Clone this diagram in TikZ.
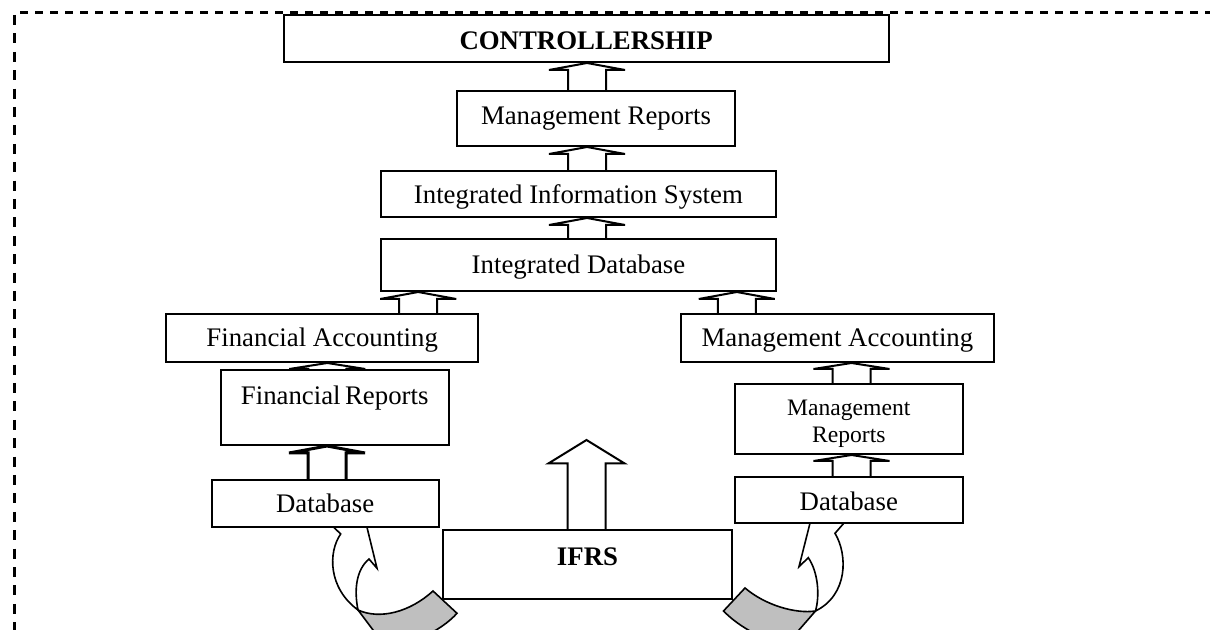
\documentclass[tikz,border=0pt]{standalone}
\usepackage{fontspec}
\setmainfont{Liberation Serif}
\usetikzlibrary{calc}

\begin{document}
\begin{tikzpicture}[
        x=0.5pt, y=-0.5pt,
        every node/.style={draw, line width=1pt, fill=white, inner xsep=0pt, inner ysep=0pt,
            anchor=base, font=\fontsize{13.4}{16}\selectfont},
        box/.style n args={3}{minimum width=#1, text height=#2, text depth=#3},
        blockarrow/.style={draw, line width=1pt,
            to path={let \p1=(\tikztostart), \p2=(\tikztotarget) in
                (\x1-9.5pt,\y1) -- (\x1-9.5pt,\y2-#1) -- (\x1-19pt,\y2-#1) -- (\x1,\y2)
                -- (\x1+19pt,\y2-#1) -- (\x1+9.5pt,\y2-#1) -- (\x1+9.5pt,\y1)}},
        blockarrow/.default=3.5pt,
        twist/.style={draw, line width=0.8pt, fill=black!25},
        curl/.style={draw, line width=0.8pt, fill=white}
    ]

    \useasboundingbox (0,0) rectangle (1210,630);
    \clip (0,0) rectangle (1210,630);

    % Curved arrows from IFRS (under the boxes)
    \draw[twist] (358,610) .. controls (380,620) and (410,612) .. (433,591) -- (457,613.3)
        .. controls (440,632) and (410,645) .. (385,646) -- cycle;
    \draw[curl] (326.3,520) -- (340.7,534) .. controls (328,552) and (328,588) .. (358,610)
        .. controls (354,590) and (356,570) .. (369,559) -- (377,568.3) -- (365.2,520);

    \draw[twist] (815.5,611) .. controls (795,614) and (765,605) .. (745,588) -- (723.5,611)
        .. controls (740,628) and (765,640) .. (785,646) -- cycle;
    \draw[curl] (811.8,516) -- (799,566.7) -- (808.3,557.7) .. controls (818,572) and (820,595) .. (815.5,611)
        .. controls (848,595) and (848,555) .. (835,533.3) -- (844,523) -- (844,516);

    % Nodes
    \node (ctrl) [box={302.6pt}{17.15pt}{6.35pt}] at (586.1,49.3) {\textbf{CONTROLLERSHIP}};
    \node (mrep) [box={139.4pt}{17pt}{10.5pt}] at (596,125) {Management Reports};
    \node (iis) [box={197.6pt}{16.5pt}{6.5pt}] at (578.4,204) {Integrated Information System};
    \node (idb) [box={197.5pt}{17.5pt}{8.5pt}] at (578.5,274) {Integrated Database};

    \node (facc) [box={156.2pt}{16.35pt}{7.65pt}] at (322.2,346.7) {Financial Accounting};
    \node (frep) [box={114.1pt}{17.15pt}{20.35pt}] at (334.7,404.3) {Financial\,Reports};
    \node (dbl) [box={113.7pt}{16.15pt}{7.35pt}] at (325.2,512.3) {Database};

    \node (macc) [box={156.4pt}{16.35pt}{7.65pt}] at (837.4,346.7) {Management Accounting};
    \node (mrep2) [box={113.8pt}{29.35pt}{5.65pt}, align=center,
        font=\fontsize{11.8}{13.35}\selectfont] at (848.8,442.7) {Management\\Reports};
    \node (dbr) [box={113.8pt}{16.5pt}{6.5pt}] at (848.8,510) {Database};

    \node (ifrs) [box={144.2pt}{17.85pt}{16.65pt}] at (587.5,565.7) {\textbf{IFRS}};
    \coordinate (ifrstip) at (586.5,440);

    % Edges
    \draw[blockarrow] ([xshift=-4.5pt]mrep.north) to (ctrl.south);
    \draw[blockarrow] ([xshift=4.3pt]iis.north) to (mrep.south);
    \draw[blockarrow] ([xshift=4.25pt]idb.north) to (iis.south);
    \draw[blockarrow] ([xshift=48pt]facc.north) to (idb.south);
    \draw[blockarrow] ([xshift=-50.3pt]macc.north) to (idb.south);
    \draw[blockarrow=3pt] ([xshift=-3.7pt]frep.north) to (facc.south);
    \draw[blockarrow, line width=1.5pt] ([xshift=0.9pt]dbl.north) to (frep.south);
    \draw[blockarrow=3pt] ([xshift=1.35pt]mrep2.north) to (macc.south);
    \draw[blockarrow=3pt] ([xshift=1.35pt]dbr.north) to (mrep2.south);
    \draw[blockarrow=11.7pt] ([xshift=-0.5pt]ifrs.north) to (ifrstip);

    % Dashed frame
    \draw[line width=1.5pt, dash pattern=on 4.2pt off 3.3pt] (20,13) -- (1215,13);
    \draw[line width=1.5pt, dash pattern=on 5pt off 4.2pt] (14,15) -- (14,640);

\end{tikzpicture}
\end{document}
